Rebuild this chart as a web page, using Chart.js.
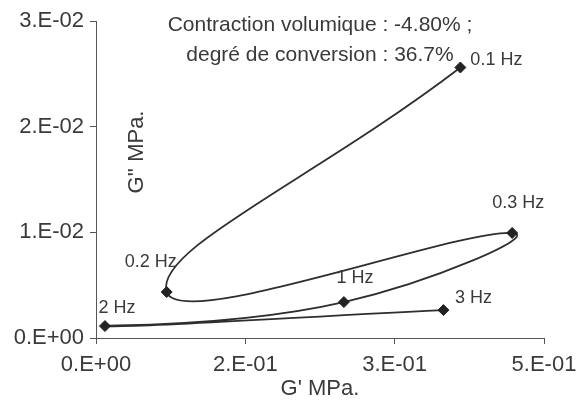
<!DOCTYPE html>
<html>
<head>
<meta charset="utf-8">
<script src="https://cdn.jsdelivr.net/npm/chart.js@4.4.1/dist/chart.umd.min.js"></script>
<style>
  html, body { margin: 0; padding: 0; background: #fff; }
  #wrap { width: 576px; height: 410px; }
</style>
</head>
<body>
<div id="wrap"><canvas id="rheoChart" width="576" height="410"></canvas></div>
<script>
// frequency sweep, G'' against G'
const freqLabels = ['0.1 Hz', '0.2 Hz', '0.3 Hz', '1 Hz', '2 Hz', '3 Hz'];
const gPrime = [0.366, 0.071, 0.418, 0.249, 0.009, 0.349];
const gSecond = [0.0256, 0.00435, 0.00994, 0.0034, 0.00113, 0.00264];

const xTicks = [0, 0.15, 0.3, 0.45];
const xTickLabels = ['0.E+00', '2.E-01', '3.E-01', '5.E-01'];
const yTicks = [0, 0.01, 0.02, 0.03];
const yTickLabels = ['0.E+00', '1.E-02', '2.E-02', '3.E-02'];

const noteLines = ['Contraction volumique : -4.80% ;', 'degré de conversion : 36.7%'];

const textColor = '#3a3a3a';
const lineColor = '#2e2e2e';
const font = '"Liberation Sans", Arial, sans-serif';

// where each frequency label sits relative to its point
const labelOffsets = {
    '0.1 Hz': { dx: 10, dy: -7, align: 'left' },
    '0.2 Hz': { dx: -16, dy: -30, align: 'center' },
    '0.3 Hz': { dx: 6, dy: -30, align: 'center' },
    '1 Hz': { dx: 11, dy: -24, align: 'center' },
    '2 Hz': { dx: 12, dy: -18, align: 'center' },
    '3 Hz': { dx: 30, dy: -12, align: 'center' }
};

const extraText = {
    id: 'extraText',
    afterDatasetsDraw(chart) {
        const ctx = chart.ctx;
        const meta = chart.getDatasetMeta(0);
        ctx.save();
        ctx.fillStyle = textColor;
        ctx.textBaseline = 'middle';

        // point labels
        ctx.font = '18px ' + font;
        meta.data.forEach(function(pt, i) {
            const o = labelOffsets[freqLabels[i]];
            ctx.textAlign = o.align;
            ctx.fillText(freqLabels[i], pt.x + o.dx, pt.y + o.dy);
        });

        // note at the top
        ctx.font = '21px ' + font;
        ctx.textAlign = 'center';
        ctx.fillText(noteLines[0], 320, 25);
        ctx.fillText(noteLines[1], 320, 55);

        // y axis title drawn inside the plot
        ctx.font = '22px ' + font;
        ctx.translate(137, 152);
        ctx.rotate(-Math.PI / 2);
        ctx.fillText("G'' MPa.", 0, 0);
        ctx.restore();
    }
};

const ctx = document.getElementById('rheoChart').getContext('2d');
const rheoChart = new Chart(ctx, {
    type: 'scatter',
    data: {
        datasets: [{
            data: gPrime.map(function(x, i) { return { x: x, y: gSecond[i] }; }),
            showLine: true,
            tension: 0.5,
            borderColor: lineColor,
            borderWidth: 1.8,
            pointStyle: 'rectRot',
            pointRadius: 5.5,
            pointBackgroundColor: '#222',
            pointBorderColor: '#222',
            pointBorderWidth: 1
        }]
    },
    options: {
        responsive: false,
        animation: false,
        layout: { padding: { top: 21, right: 32, left: 0, bottom: 0 } },
        plugins: {
            legend: { display: false },
            tooltip: { enabled: false }
        },
        scales: {
            x: {
                type: 'linear',
                min: 0,
                max: 0.45,
                afterBuildTicks: function(scale) {
                    scale.ticks = xTicks.map(function(v) { return { value: v }; });
                },
                afterFit: function(scale) {
                    scale.height = 72;
                    scale.paddingLeft = 0;
                    scale.paddingRight = 0;
                },
                ticks: {
                    color: textColor,
                    font: { family: font, size: 22 },
                    padding: 8,
                    maxRotation: 0,
                    callback: function(v) { return xTickLabels[xTicks.indexOf(v)]; }
                },
                grid: { drawOnChartArea: false, drawTicks: true, tickLength: 6, color: '#555' },
                border: { display: true, color: '#555', width: 1 },
                title: {
                    display: true,
                    text: "G' MPa.",
                    color: textColor,
                    font: { family: font, size: 22 },
                    padding: { top: 0, bottom: 8 }
                }
            },
            y: {
                type: 'linear',
                min: 0,
                max: 0.03,
                afterBuildTicks: function(scale) {
                    scale.ticks = yTicks.map(function(v) { return { value: v }; });
                },
                afterFit: function(scale) {
                    scale.width = 96;
                    scale.paddingTop = 0;
                    scale.paddingBottom = 0;
                },
                ticks: {
                    color: textColor,
                    font: { family: font, size: 22 },
                    padding: 6,
                    callback: function(v) { return yTickLabels[yTicks.indexOf(v)]; }
                },
                grid: { drawOnChartArea: false, drawTicks: true, tickLength: 6, color: '#555' },
                border: { display: true, color: '#555', width: 1 }
            }
        }
    },
    plugins: [extraText]
});
</script>
</body>
</html>
